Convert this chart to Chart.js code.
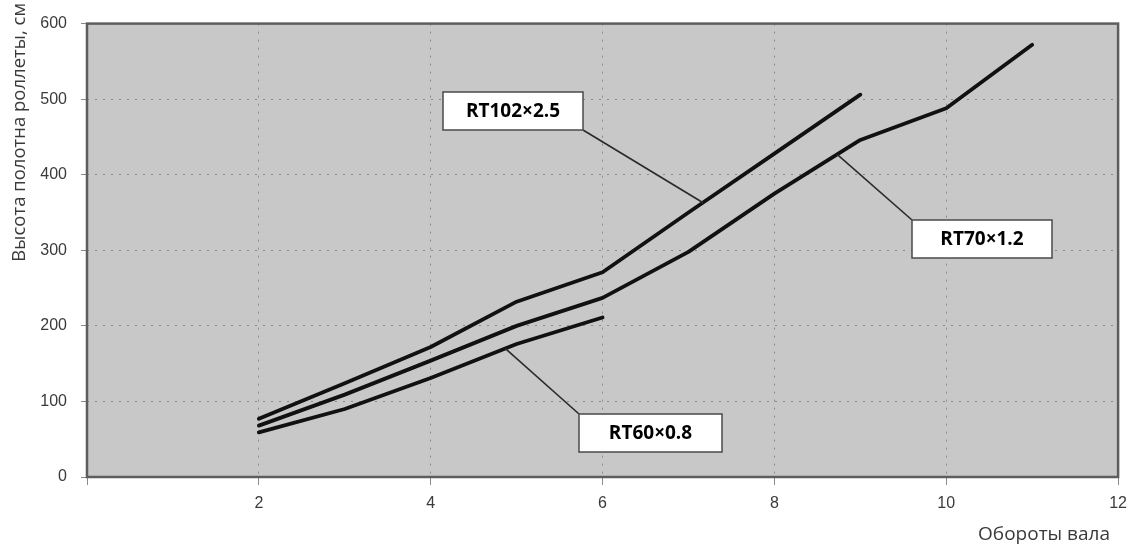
<!DOCTYPE html>
<html>
<head>
<meta charset="utf-8">
<script src="https://cdn.jsdelivr.net/npm/chart.js@4/dist/chart.umd.min.js"></script>
<style>
  html, body { margin: 0; padding: 0; background: #ffffff; }
  #wrap { position: relative; width: 1136px; height: 547px; }
</style>
</head>
<body>
<div id="wrap"><canvas id="c"></canvas></div>
<script>
// ---- data ----
const xTicks = [0, 2, 4, 6, 8, 10, 12];
const yTicks = [0, 100, 200, 300, 400, 500, 600];

const rt102X = [2, 3, 4, 5, 6, 7, 8, 9];
const rt102Y = [77, 124, 172, 232, 271, 350, 428, 506];

const rt70X = [2, 3, 4, 5, 6, 7, 8, 9, 10, 11];
const rt70Y = [68, 109, 154, 200, 237, 298, 375, 446, 488, 572];

const rt60X = [2, 3, 4, 5, 6];
const rt60Y = [59, 90, 131, 176, 211];

const seriesNames = ['RT102\u00d72.5', 'RT70\u00d71.2', 'RT60\u00d70.8'];
const yTitle = 'Высота полотна роллеты, см';
const xTitle = 'Обороты вала';

// leader-line targets (data coordinates on each curve)
const leaderTargets = [
  { x: 7.17, y: 363 },
  { x: 8.73, y: 427 },
  { x: 4.87, y: 170 }
];

function pts(xs, ys) { return xs.map((x, i) => ({ x: x, y: ys[i] })); }

const lineStyle = {
  borderColor: '#111111',
  borderWidth: 3.8,
  pointRadius: 0,
  fill: false,
  tension: 0,
  showLine: true,
  borderJoinStyle: 'round',
  borderCapStyle: 'round'
};

const decor = {
  id: 'decor',
  beforeDraw(chart) {
    const a = chart.chartArea, ctx = chart.ctx;
    ctx.save();
    ctx.fillStyle = '#c8c8c8';
    ctx.fillRect(a.left, a.top, a.right - a.left, a.bottom - a.top);
    ctx.restore();
  },
  afterDatasetsDraw(chart) {
    const a = chart.chartArea, ctx = chart.ctx;
    const xs = chart.scales.x, ys = chart.scales.y;
    ctx.save();
    // frame
    ctx.strokeStyle = '#5e5e5e';
    ctx.lineWidth = 2.5;
    ctx.strokeRect(a.left, a.top, a.right - a.left, a.bottom - a.top);

    // annotation boxes (layout in pixels), leader to data point via scales
    const boxes = [
      { l: 443, t: 92, w: 140, h: 38, ax: 583, ay: 130 },
      { l: 912, t: 220, w: 140, h: 38, ax: 912, ay: 220 },
      { l: 579, t: 414, w: 143, h: 38, ax: 579, ay: 414 }
    ];
    boxes.forEach((b, i) => {
      const tx = xs.getPixelForValue(leaderTargets[i].x);
      const ty = ys.getPixelForValue(leaderTargets[i].y);
      ctx.strokeStyle = '#2a2a2a';
      ctx.lineWidth = 1.6;
      ctx.beginPath();
      ctx.moveTo(b.ax, b.ay);
      ctx.lineTo(tx, ty);
      ctx.stroke();
      ctx.fillStyle = '#ffffff';
      ctx.fillRect(b.l, b.t, b.w, b.h);
      ctx.strokeStyle = '#4a4a4a';
      ctx.lineWidth = 1.5;
      ctx.strokeRect(b.l, b.t, b.w, b.h);
      ctx.fillStyle = '#000000';
      ctx.font = 'bold 19px "Open Sans", sans-serif';
      ctx.textAlign = 'center';
      ctx.textBaseline = 'middle';
      ctx.fillText(seriesNames[i], b.l + b.w / 2, b.t + b.h / 2 + 1);
    });

    // axis titles
    ctx.fillStyle = '#3a3a3a';
    ctx.font = '19px "Open Sans", sans-serif';
    ctx.textAlign = 'right';
    ctx.textBaseline = 'middle';
    ctx.fillText(xTitle, 1110, 535);
    ctx.translate(20, 3);
    ctx.rotate(-Math.PI / 2);
    ctx.font = '18.5px "Open Sans", sans-serif';
    ctx.textAlign = 'right';
    ctx.fillText(yTitle, 0, 0);
    ctx.restore();
  }
};

new Chart(document.getElementById('c'), {
  type: 'scatter',
  data: {
    datasets: [
      Object.assign({ label: seriesNames[0], data: pts(rt102X, rt102Y) }, lineStyle),
      Object.assign({ label: seriesNames[1], data: pts(rt70X, rt70Y) }, lineStyle),
      Object.assign({ label: seriesNames[2], data: pts(rt60X, rt60Y) }, lineStyle)
    ]
  },
  options: {
    responsive: true,
    maintainAspectRatio: false,
    animation: false,
    events: [],
    layout: { padding: { top: 20, right: 16, left: 0, bottom: 0 } },
    plugins: { legend: { display: false }, tooltip: { enabled: false } },
    scales: {
      x: {
        type: 'linear',
        min: xTicks[0],
        max: xTicks[xTicks.length - 1],
        afterBuildTicks(s) { s.ticks = xTicks.map(v => ({ value: v })); },
        afterFit(s) { s.height = 70; },
        grid: {
          color: '#8a8a8a',
          borderDash: [2, 6],
          lineWidth: 1,
          drawTicks: true,
          tickLength: 8,
          tickColor: '#8a8a8a'
        },
        border: { display: false, dash: [2, 6] },
        ticks: {
          padding: 9,
          color: '#3a3a3a',
          font: { family: '"Liberation Sans", Arial, sans-serif', size: 16 },
          maxRotation: 0,
          callback: (v) => (v === 0 ? '' : String(v))
        }
      },
      y: {
        type: 'linear',
        min: yTicks[0],
        max: yTicks[yTicks.length - 1],
        afterBuildTicks(s) { s.ticks = yTicks.map(v => ({ value: v })); },
        afterFit(s) { s.width = 87; },
        grid: {
          color: '#8a8a8a',
          borderDash: [2, 6],
          lineWidth: 1,
          drawTicks: true,
          tickLength: 6,
          tickColor: '#8a8a8a'
        },
        border: { display: false, dash: [2, 6] },
        ticks: {
          padding: 14,
          color: '#3a3a3a',
          font: { family: '"Liberation Sans", Arial, sans-serif', size: 16 },
          callback: (v) => String(v)
        }
      }
    }
  },
  plugins: [decor]
});
</script>
</body>
</html>
